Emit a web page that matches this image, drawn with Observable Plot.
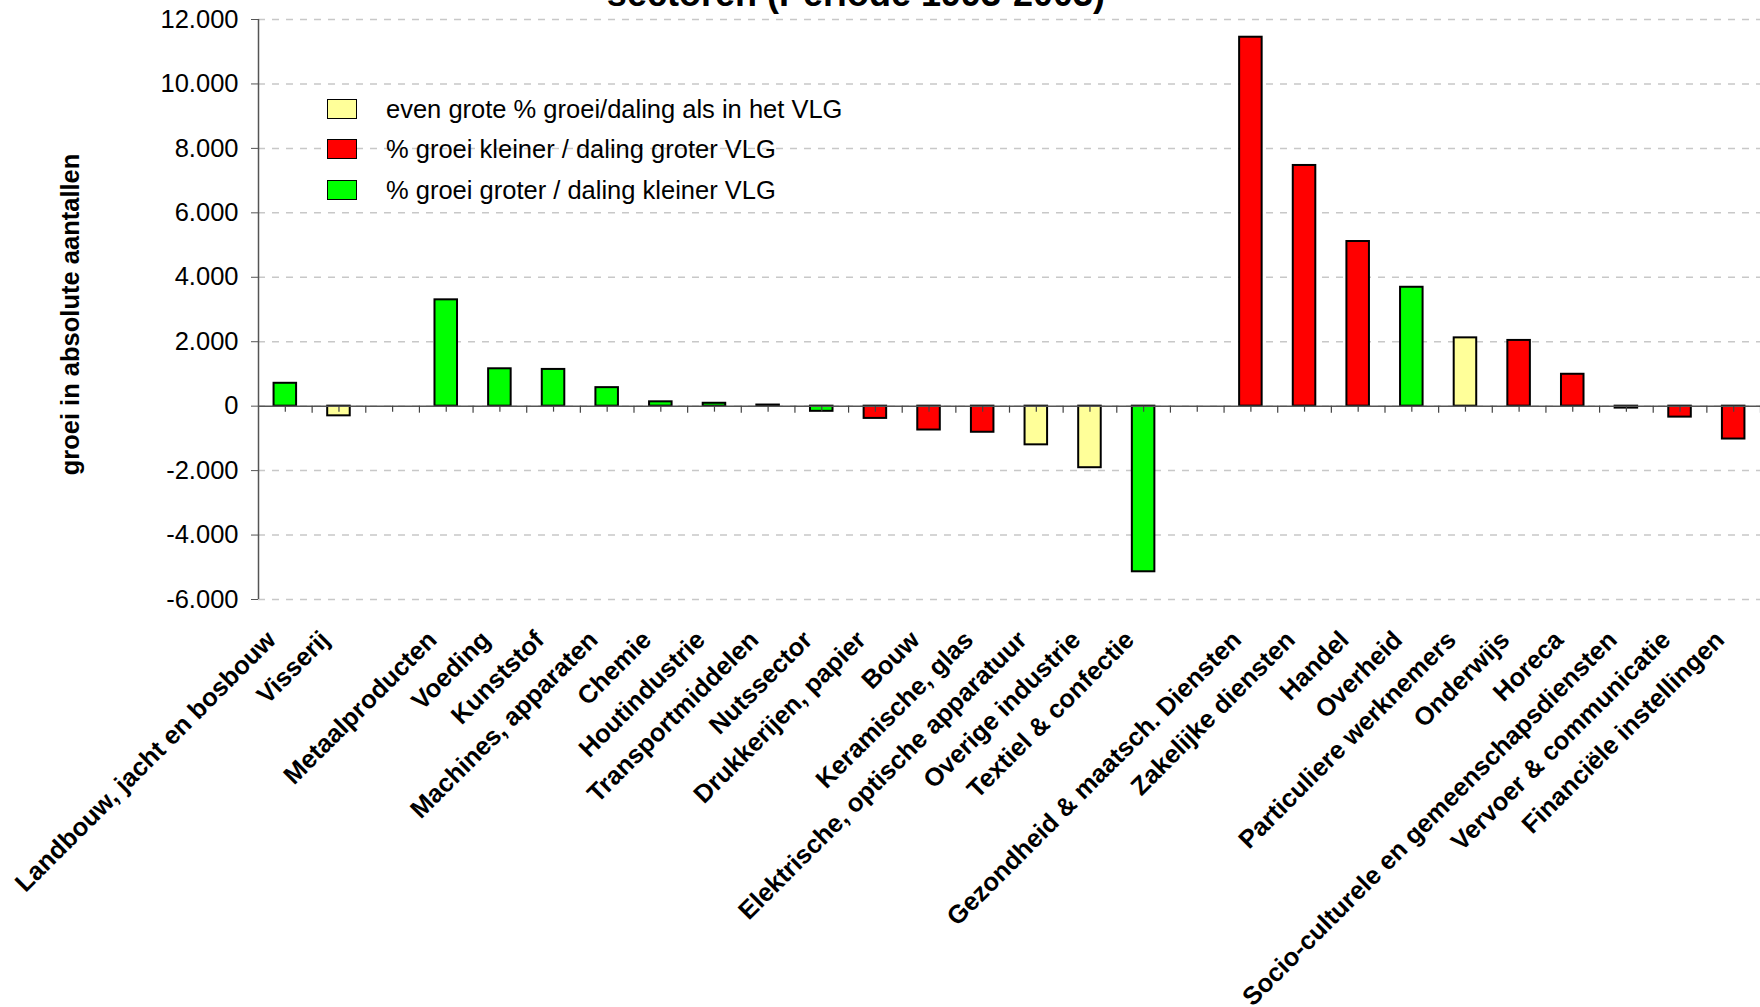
<!DOCTYPE html>
<html>
<head>
<meta charset="utf-8">
<script src="https://cdn.jsdelivr.net/npm/d3@7"></script>
<script src="https://cdn.jsdelivr.net/npm/@observablehq/plot@0.6"></script>
<style>
  html, body { margin: 0; padding: 0; background: #fff; overflow: hidden; }
  #wrap { position: relative; width: 1760px; height: 1007px; font-family: "Liberation Sans", Arial, sans-serif; }
  #title { position: absolute; left: 0; width: 1712px; top: -24px; text-align: center; font-size: 36px; font-weight: bold; line-height: 1; white-space: nowrap; }
  #chart { position: absolute; left: 0; top: 0; }
  .lg { position: absolute; left: 327px; height: 24px; font-size: 25.5px; line-height: 24px; white-space: nowrap; }
  .lg .sw { position: absolute; left: 0; top: 2px; width: 28px; height: 18px; border: 1.5px solid #000; }
  .lg .tx { position: absolute; left: 59px; top: 0; }
</style>
</head>
<body>
<div id="wrap">
  <div id="chart"></div>
  <div id="legend"></div>
  <div id="title">sectoren (Periode 1993-2003)</div>
</div>
<script>
// ---- data ----
const categories = [
  "Landbouw, jacht en bosbouw", "Visserij", "", "Metaalproducten", "Voeding", "Kunststof",
  "Machines, apparaten", "Chemie", "Houtindustrie", "Transportmiddelen", "Nutssector",
  "Drukkerijen, papier", "Bouw", "Keramische, glas", "Elektrische, optische apparatuur",
  "Overige industrie", "Textiel & confectie", " ", "Gezondheid & maatsch. Diensten",
  "Zakelijke diensten", "Handel", "Overheid", "Particuliere werknemers", "Onderwijs", "Horeca",
  "Socio-culturele en gemeenschapsdiensten", "Vervoer & communicatie", "Financiële instellingen"
];
const values = [
  710, -300, null, 3300, 1160, 1140,
  575, 135, 90, 35, -160,
  -380, -740, -810, -1200,
  -1910, -5140, null, 11450,
  7470, 5110, 3690, 2120, 2040, 990,
  -60, -340, -1020
];
const status = [
  "groter", "even", null, "groter", "groter", "groter",
  "groter", "groter", "groter", "groter", "groter",
  "kleiner", "kleiner", "kleiner", "even",
  "even", "groter", null, "kleiner",
  "kleiner", "kleiner", "groter", "even", "kleiner", "kleiner",
  "kleiner", "kleiner", "kleiner"
];
const legendKeys = ["even", "kleiner", "groter"];
const legendLabels = [
  "even grote % groei/daling als in het VLG",
  "% groei kleiner / daling groter VLG",
  "% groei groter / daling kleiner VLG"
];
const legendColors = ["#FFFF99", "#FF0000", "#00FF00"];
const yDomain = [-6000, 12000];
const yTicks = [-6000, -4000, -2000, 0, 2000, 4000, 6000, 8000, 10000, 12000];
const yLabel = "groei in absolute aantallen";

// ---- layout ----
const W = 1760, H = 1007, mL = 258, mR = 0, mT = 19, mB = 408;
const step = (W - mL - mR) / categories.length;
const fmt = d3.formatLocale({decimal: ",", thousands: ".", grouping: [3], currency: ["", ""], minus: "-"}).format(",d");

const data = categories.map((c, i) => ({cat: c, value: values[i], status: status[i]}));
const bars = data.filter(d => d.value != null);

const chart = Plot.plot({
  width: W, height: H,
  marginLeft: mL, marginRight: mR, marginTop: mT, marginBottom: mB,
  style: {fontFamily: "'Liberation Sans', Arial, sans-serif", fontSize: "25.5px", color: "#000", background: "transparent", overflow: "visible"},
  x: {domain: categories, paddingInner: 0.58, paddingOuter: 0.29, round: false, axis: null},
  y: {domain: yDomain, axis: null},
  color: {domain: legendKeys, range: legendColors},
  marks: [
    Plot.gridY(yTicks, {stroke: "#c8c8c8", strokeOpacity: 1, strokeDasharray: "7,7", strokeWidth: 1.5}),
    Plot.axisY(yTicks, {tickSize: 7, tickPadding: 13, tickFormat: fmt, fontSize: 25.5, stroke: "#555", label: null}),
    Plot.ruleX([categories[0]], {x: d => d, dx: -step / 2, stroke: "#555", strokeWidth: 1.5}),
    Plot.barY(bars, {x: "cat", y: "value", fill: "status", stroke: "#000", strokeWidth: 2}),
    Plot.ruleY([0], {stroke: "#555", strokeWidth: 1.5}),
    Plot.ruleX(categories, {x: d => d, y1: 0, y2: 0, insetBottom: -6, stroke: "#444", strokeWidth: 1.2}),
    Plot.ruleX(categories, {x: d => d, dx: step / 2, y1: 0, y2: 0, insetBottom: -7, stroke: "#444", strokeWidth: 1.2}),
    Plot.text(categories, {x: d => d, frameAnchor: "bottom", rotate: -45, textAnchor: "end", dx: -8, dy: 42, fontWeight: "bold", fontSize: 25.5, fill: "#000"}),
    Plot.text([yLabel], {frameAnchor: "left", textAnchor: "middle", dx: -188, dy: 5, rotate: -90, fontWeight: "bold", fontSize: 25.5, fill: "#000"})
  ]
});
document.getElementById("chart").appendChild(chart);

// ---- legend ----
const rowsY = [109, 149, 190];
const lg = document.getElementById("legend");
legendKeys.forEach((k, i) => {
  const row = document.createElement("div");
  row.className = "lg";
  row.style.top = (rowsY[i] - 12) + "px";
  const sw = document.createElement("div");
  sw.className = "sw";
  sw.style.background = legendColors[i];
  const tx = document.createElement("div");
  tx.className = "tx";
  tx.textContent = legendLabels[i];
  row.appendChild(sw); row.appendChild(tx);
  lg.appendChild(row);
});
</script>
</body>
</html>
